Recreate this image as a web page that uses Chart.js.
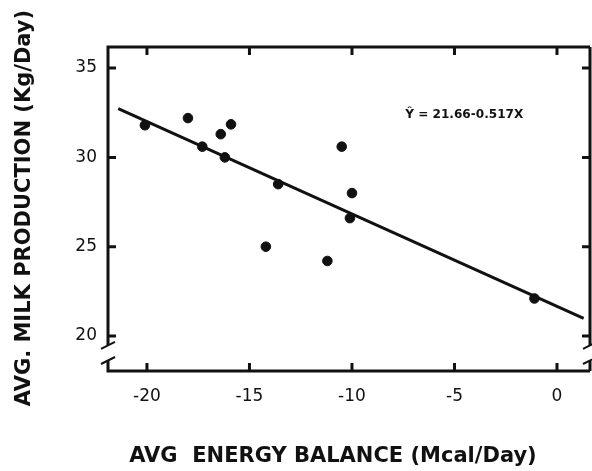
<!DOCTYPE html>
<html>
<head>
<meta charset="utf-8">
<script src="https://cdn.jsdelivr.net/npm/chart.js@4/dist/chart.umd.min.js"></script>
<style>
    html, body { margin: 0; padding: 0; background: #fff; }
    #wrap { width: 592px; height: 471px; position: relative; }
</style>
</head>
<body>
<div id="wrap"><canvas id="milkChart"></canvas></div>
<script>
// Energy balance (Mcal/day) vs milk production (kg/day), one point per cow
const energyBalance = [-20.1, -18.0, -17.3, -16.4, -15.9, -16.2, -13.6, -10.5, -10.0, -10.1, -14.2, -11.2, -1.1];
const milkProduction = [31.8, 32.2, 30.6, 31.3, 31.85, 30.0, 28.5, 30.6, 28.0, 26.6, 25.0, 24.2, 22.1];

// Fitted line  Y = 21.66 - 0.517 X
const intercept = 21.66;
const slope = -0.517;
const fitRange = [-21.4, 1.3];
const equationText = 'Ŷ = 21.66-0.517X';

const xTicks = [-20, -15, -10, -5, 0];
const yTicks = [20, 25, 30, 35];

const ink = '#111';

const points = energyBalance.map((x, i) => ({ x: x, y: milkProduction[i] }));
const fitLine = fitRange.map(x => ({ x: x, y: intercept + slope * x }));

// Draw text squeezed horizontally so it never runs wider than maxWidth
function fitText(ctx, text, x, y, maxWidth) {
    const w = ctx.measureText(text).width;
    const k = Math.min(1, maxWidth / w);
    ctx.save();
    ctx.translate(x, y);
    ctx.scale(k, 1);
    ctx.fillText(text, 0, 0);
    ctx.restore();
}

// Frame, inward ticks, axis breaks, titles and the equation
const framePlugin = {
    id: 'frame',
    afterDraw(chart) {
        const ctx = chart.ctx;
        const a = chart.chartArea;
        const xs = chart.scales.x;
        const ys = chart.scales.y;
        const tick = 8;
        const breakTop = ys.getPixelForValue(19.5);
        const breakBot = ys.getPixelForValue(18.6);

        ctx.save();
        ctx.strokeStyle = ink;
        ctx.lineWidth = 3;
        ctx.lineCap = 'butt';

        ctx.beginPath();
        // top and bottom
        ctx.moveTo(a.left - 1.5, a.top); ctx.lineTo(a.right, a.top);
        ctx.moveTo(a.left - 1.5, a.bottom); ctx.lineTo(a.right, a.bottom);
        // left and right sides, broken near the bottom
        [a.left, a.right].forEach(px => {
            ctx.moveTo(px, a.top); ctx.lineTo(px, breakTop);
            ctx.moveTo(px, breakBot); ctx.lineTo(px, a.bottom);
        });
        ctx.stroke();

        // break marks
        ctx.lineWidth = 2;
        ctx.beginPath();
        [a.left, a.right].forEach(px => {
            ctx.moveTo(px - 7, breakTop + 4); ctx.lineTo(px + 7, breakTop - 3);
            ctx.moveTo(px - 7, breakBot + 3); ctx.lineTo(px + 7, breakBot - 4);
        });
        ctx.stroke();

        // ticks pointing inward on all four sides
        ctx.lineWidth = 3;
        ctx.beginPath();
        xTicks.forEach(v => {
            const px = xs.getPixelForValue(v);
            ctx.moveTo(px, a.bottom); ctx.lineTo(px, a.bottom - tick);
            ctx.moveTo(px, a.top); ctx.lineTo(px, a.top + tick);
        });
        yTicks.forEach(v => {
            const py = ys.getPixelForValue(v);
            ctx.moveTo(a.left, py); ctx.lineTo(a.left + tick, py);
            ctx.moveTo(a.right, py); ctx.lineTo(a.right - tick, py);
        });
        ctx.stroke();

        // equation
        ctx.fillStyle = ink;
        ctx.font = 'bold 13px "DejaVu Sans"';
        ctx.textAlign = 'left';
        ctx.textBaseline = 'middle';
        fitText(ctx, equationText, xs.getPixelForValue(-7.4), ys.getPixelForValue(32.4), 118);

        // axis titles
        ctx.font = 'bold 21px "DejaVu Sans"';
        ctx.textAlign = 'left';
        ctx.textBaseline = 'middle';
        const xTitle = 'AVG  ENERGY BALANCE (Mcal/Day)';
        const xw = Math.min(411, ctx.measureText(xTitle).width);
        fitText(ctx, xTitle, 333 - xw / 2, 457, 411);

        const yTitle = 'AVG. MILK PRODUCTION (Kg/Day)';
        const yw = Math.min(403, ctx.measureText(yTitle).width);
        ctx.save();
        ctx.translate(25, 208);
        ctx.rotate(-Math.PI / 2);
        fitText(ctx, yTitle, -yw / 2, 0, 403);
        ctx.restore();

        ctx.restore();
    }
};

new Chart(document.getElementById('milkChart'), {
    type: 'scatter',
    data: {
        datasets: [{
            label: 'Cows',
            data: points,
            backgroundColor: ink,
            borderColor: ink,
            pointRadius: 4.8,
            pointHoverRadius: 4.8
        }, {
            type: 'line',
            label: 'Fit',
            data: fitLine,
            borderColor: ink,
            borderWidth: 3,
            pointRadius: 0,
            fill: false,
            tension: 0
        }]
    },
    options: {
        responsive: true,
        maintainAspectRatio: false,
        animation: false,
        events: [],
        layout: {
            autoPadding: false,
            padding: { top: 47, right: 2, left: 0, bottom: 0 }
        },
        plugins: {
            legend: { display: false },
            tooltip: { enabled: false }
        },
        scales: {
            x: {
                type: 'linear',
                min: -21.9,
                max: 1.61,
                afterBuildTicks: scale => { scale.ticks = xTicks.map(v => ({ value: v })); },
                afterFit: scale => { scale.height = 100; scale.paddingRight = 0; },
                grid: { display: false, drawTicks: false },
                border: { display: false },
                ticks: {
                    color: ink,
                    padding: 15,
                    maxRotation: 0,
                    font: { family: '"DejaVu Sans"', size: 17 },
                    callback: v => String(v)
                }
            },
            y: {
                type: 'linear',
                min: 18.04,
                max: 36.18,
                afterBuildTicks: scale => { scale.ticks = yTicks.map(v => ({ value: v })); },
                afterFit: scale => { scale.width = 108; },
                grid: { display: false, drawTicks: false },
                border: { display: false },
                ticks: {
                    color: ink,
                    padding: 11,
                    font: { family: '"DejaVu Sans"', size: 17 }
                }
            }
        }
    },
    plugins: [framePlugin]
});
</script>
</body>
</html>
